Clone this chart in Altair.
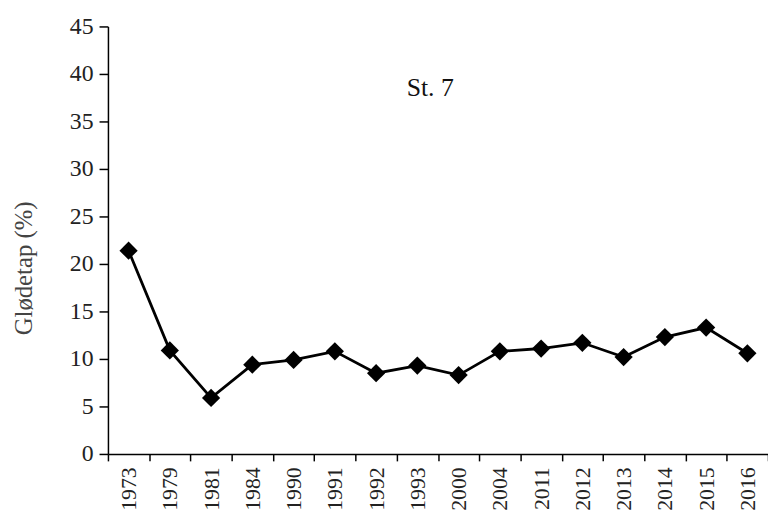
import altair as alt
import pandas as pd

years = ["1973", "1979", "1981", "1984", "1990", "1991", "1992", "1993",
         "2000", "2004", "2011", "2012", "2013", "2014", "2015", "2016"]
values = [21.4, 10.9, 5.9, 9.4, 9.9, 10.8, 8.5, 9.3,
          8.3, 10.8, 11.1, 11.7, 10.2, 12.3, 13.3, 10.6]
y_ticks = [0, 5, 10, 15, 20, 25, 30, 35, 40, 45]
label_text = ["St. 7"]
label_year = ["1993"]
label_value = [38.5]

df = pd.DataFrame({"year": years, "value": values})
ann = pd.DataFrame({"year": label_year, "value": label_value, "text": label_text})

FONT = "Liberation Serif"

x_enc = alt.X("year:N", sort=years,
              scale=alt.Scale(paddingInner=0, paddingOuter=0),
              axis=alt.Axis(title=None, labelAngle=270, labelAlign="right",
                            labelBaseline="middle", labelFont=FONT, labelFontSize=22,
                            labelColor="#222", labelPadding=6, tickBand="extent",
                            tickSize=7, tickWidth=1.5, tickColor="#000",
                            domainColor="#000", domainWidth=1.5))
y_enc = alt.Y("value:Q",
              scale=alt.Scale(domain=[0, 45], nice=False, zero=True),
              axis=alt.Axis(title="Glødetap (%)", values=y_ticks, grid=False,
                            labelFont=FONT, labelFontSize=24, labelColor="#222",
                            labelPadding=6, tickSize=9, tickWidth=1.5, tickColor="#000",
                            domainColor="#000", domainWidth=1.5,
                            titleFont=FONT, titleFontSize=25, titleFontWeight="normal",
                            titleColor="#444", titleX=-85, titleY=244,
                            titleAlign="center", titleBaseline="middle", titleAngle=270))

line = alt.Chart(df).mark_line(color="#000", strokeWidth=2.8).encode(x=x_enc, y=y_enc)
pts = alt.Chart(df).mark_point(shape="diamond", filled=True, color="#000",
                               size=340, opacity=1).encode(x=x_enc, y=y_enc)
txt = alt.Chart(ann).mark_text(font=FONT, fontSize=26, color="#111", dx=13,
                               baseline="middle", align="center").encode(
    x=alt.X("year:N", sort=years), y="value:Q", text="text:N")

chart = alt.layer(line, pts, txt).properties(
    width=667, height=432,
    autosize=alt.AutoSizeParams(type="none"),
    padding={"left": 101, "top": 16, "right": 0, "bottom": 55},
).configure_view(stroke=None)

chart.save("out.html", embed_options={"renderer": "svg", "actions": False})
